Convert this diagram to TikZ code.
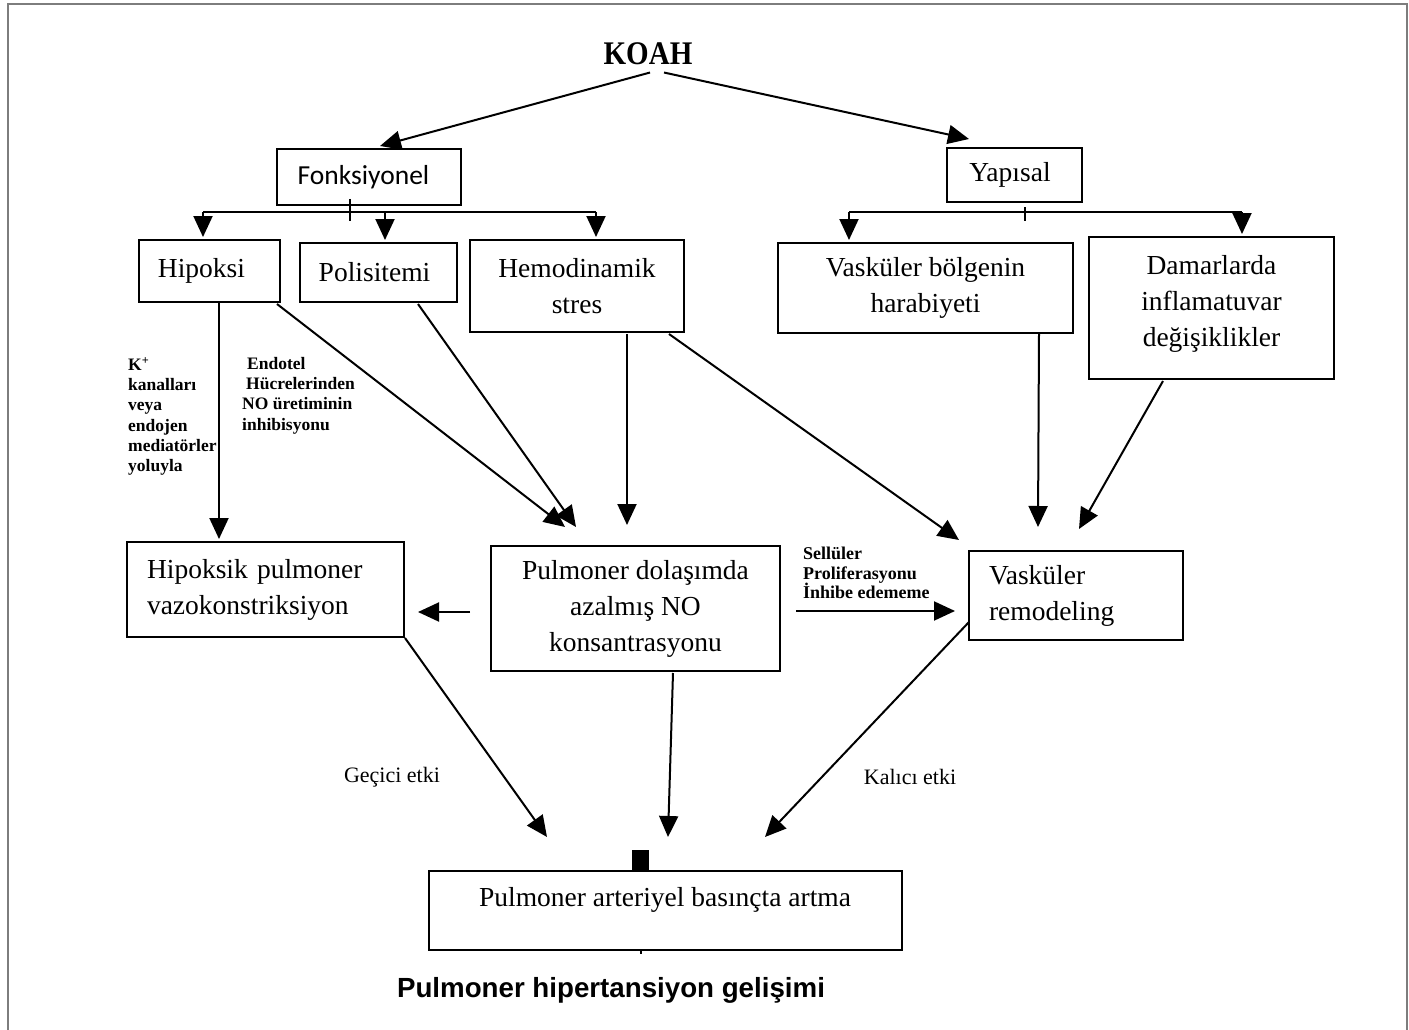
\documentclass[tikz,border=0pt]{standalone}
\usepackage{fontspec}
\setmainfont{Liberation Serif}
\newfontfamily\calib{Carlito}
\newfontfamily\arialf{Liberation Sans}
\usetikzlibrary{arrows.meta,calc}
\definecolor{framec}{RGB}{125,125,125}
\begin{document}
\begin{tikzpicture}[x=1pt,y=-1pt,
  box/.style={draw, line width=2pt, inner sep=0pt, align=center, font=\fontsize{27.5}{36}\selectfont},
  lbox/.style={draw, line width=2pt, inner ysep=0pt, inner xsep=20pt, align=left, font=\fontsize{27.5}{36}\selectfont},
  arr/.style={line width=2pt, -{Triangle[length=21pt,width=19pt]}},
  ln/.style={line width=2pt},
  small/.style={font=\bfseries\fontsize{17.5}{20.3}\selectfont, align=left, inner sep=0pt, anchor=north west},
  lab/.style={font=\fontsize{22}{26}\selectfont, inner sep=0pt}
]
\useasboundingbox (0,0) rectangle (1409,1030);
\draw[framec, line width=2.5pt] (8,1032) -- (8,4) -- (1407,4) -- (1407,1032);

% nodes
\node[font=\bfseries\fontsize{33}{36}\selectfont, inner sep=0pt, anchor=base] (koah) at (648,65) {\scalebox{0.88}[1]{KOAH}};
\node[box, minimum width=184pt, minimum height=55pt, font=\calib\fontsize{27.5}{33}\selectfont] (fonk) at (369,177) {Fonksiyonel\rule{11pt}{0pt}};
\node[box, minimum width=135pt, minimum height=53pt] (yap) at (1014,175) {Yapısal\rule{8pt}{0pt}};
\node[box, minimum width=141pt, minimum height=62pt] (hip) at (209.5,271) {Hipoksi\rule{16pt}{0pt}};
\node[box, minimum width=157pt, minimum height=59pt] (pol) at (378.5,272.5) {Polisitemi\rule{8pt}{0pt}};
\node[box, minimum width=214pt, minimum height=92pt] (hem) at (577,286) {Hemodinamik\\stres};
\node[box, minimum width=295pt, minimum height=90pt] (vbh) at (925.5,288) {Vasküler bölgenin\\harabiyeti};
\node[box, minimum width=245pt, minimum height=142pt] (dam) at (1211.5,308) {Damarlarda\\inflamatuvar\\değişiklikler\\[-21pt]\mbox{}};
\node[lbox, text width=237pt, minimum height=95pt] (hpv) at (265.5,589.5) {Hipoksik pulmoner\\vazokonstriksiyon};
\node[box, minimum width=289pt, minimum height=125pt] (pdn) at (635.5,608.5) {Pulmoner dolaşımda\\azalmış NO\\konsantrasyonu};
\node[lbox, text width=174pt, minimum height=89pt] (vr) at (1076,595.5) {Vasküler\\remodeling};
\node[box, minimum width=473pt, minimum height=79pt] (pab) at (665,910) {};
\node[font=\fontsize{27.5}{36}\selectfont, inner sep=0pt, anchor=base] (pabt) at (665,906) {Pulmoner arteriyel basınçta artma};

% labels
\node[small] (klab) at (128,357) {K\textsuperscript{+}\\kanalları\\veya\\endojen\\mediatörler\\yoluyla};
\node[small] (elab) at (242,357) {\hspace*{5pt}Endotel\\\hspace*{4pt}Hücrelerinden\\NO üretiminin\\inhibisyonu};
\node[font=\bfseries\fontsize{18}{19.5}\selectfont, align=left, inner sep=0pt, anchor=north west] (slab) at (803,547) {Sellüler\\Proliferasyonu\\İnhibe edememe};
\node[lab] (gec) at (392,777) {Geçici etki};
\node[lab] (kal) at (910,777) {Kalıcı etki};
\node[font=\arialf\bfseries\fontsize{27.7}{32}\selectfont, inner sep=0pt, anchor=base] (title) at (611,997) {Pulmoner hipertansiyon gelişimi};

% KOAH arrows
\draw[arr] ($(koah.south)+(2,7)$) -- ($(fonk.north)+(11,-2.5)$);
\draw[arr] ($(koah.south)+(16,7)$) -- ($(yap.north west)+(23.5,-8.5)$);

% Fonksiyonel branch
\draw[ln] ($(fonk.south)+(-19,-6.5)$) -- ($(fonk.south)+(-19,15.5)$);
\draw[ln] ($(hip.north)+(-6.5,-27)$) -- ($(hem.north)+(19,-27)$);
\draw[arr] ($(hip.north)+(-6.5,-27)$) -- ($(hip.north)+(-6.5,-2)$);
\draw[arr] ($(pol.north)+(6.5,-30)$) -- ($(pol.north)+(6.5,-2)$);
\draw[arr] ($(hem.north)+(19,-27)$) -- ($(hem.north)+(19,-2)$);

% Yapisal branch
\draw[ln] ($(yap.south)+(11,4.5)$) -- ($(yap.south)+(11,18.5)$);
\draw[ln] ($(vbh.north)+(-76.5,-30)$) -- ($(dam.north)+(30.5,-24)$);
\draw[arr] ($(vbh.north)+(-76.5,-30)$) -- ($(vbh.north)+(-76.5,-2)$);
\draw[arr] ($(dam.north)+(30.5,-24)$) -- ($(dam.north)+(30.5,-2)$);

% to middle row
\draw[arr] ($(hip.south)+(9.5,0)$) -- ($(hpv.north)+(-46.5,-2)$);
\draw[arr] ($(hip.south east)+(-4,1)$) -- ($(pdn.north west)+(75,-18)$);
\draw[arr] ($(pol.south)+(39.5,1)$) -- ($(pdn.north west)+(86,-18)$);
\draw[arr] ($(hem.south)+(50,1)$) -- ($(pdn.north)+(-8.5,-20)$);
\draw[arr] ($(hem.south east)+(-16,1)$) -- ($(vr.north west)+(-9,-10)$);
\draw[arr] ($(vbh.south east)+(-35,0)$) -- ($(vr.north)+(-38,-23)$);
\draw[arr] ($(dam.south)+(-48.5,1)$) -- ($(vr.north)+(3,-21)$);

% middle row horizontal
\draw[arr] ($(pdn.west)+(-20,3.5)$) -- ($(hpv.east)+(13,22.5)$);
\draw[arr] ($(pdn.east)+(15,2.5)$) -- ($(vr.west)+(-13,15.5)$);

% to bottom
\draw[arr] (hpv.south east) -- ($(pab.north west)+(119.5,-32.5)$);
\draw[arr] ($(pdn.south)+(37.5,1)$) -- ($(pab.north)+(3,-32.5)$);
\draw[arr] ($(vr.west)+(1,26.5)$) -- ($(pab.north)+(100,-32.5)$);
\fill ($(pab.north)+(-33,-19.5)$) rectangle ($(pab.north)+(-16,0)$);
\draw[line width=1.5pt] ($(pab.south)+(-24,0)$) -- ($(pab.south)+(-24,3)$);
\end{tikzpicture}
\end{document}
